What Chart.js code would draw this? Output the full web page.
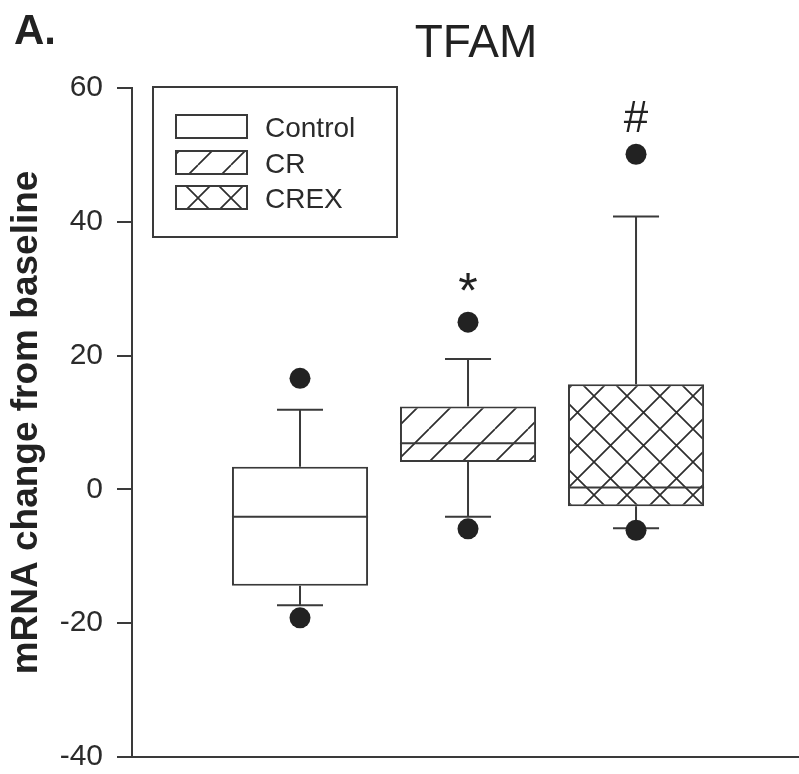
<!DOCTYPE html>
<html><head><meta charset="utf-8">
<style>html,body{margin:0;padding:0;background:#fff;} canvas{display:block;}</style>
<script src="https://cdn.jsdelivr.net/npm/chart.js@4"></script>
</head><body>
<canvas id="c" width="799" height="774"></canvas>
<script>
// ---- data ----
const categories = ['Control', 'CR', 'CREX'];
const groupX = [1, 2, 3];
const q1 = [-14.4, 4.1, -2.5];
const median = [-4.1, 6.9, 0.3];
const q3 = [3.4, 12.4, 15.7];
const whiskerLow = [-17.3, -4.1, -5.8];
const whiskerHigh = [11.9, 19.5, 40.8];
const outliersControl = [16.6, -19.2];
const outliersCR = [25.0, -5.9];
const outliersCREX = [50.1, -6.1];
const significance = ['', '*', '#'];
const significanceY = [null, 31.0, 55.7];
const yTicks = [-40, -20, 0, 20, 40, 60];
const titleText = 'TFAM';
const panelLabel = 'A.';
const yTitle = 'mRNA change from baseline';

// ---- styles ----
const FONT = '"Liberation Sans", Arial, Helvetica, sans-serif';
const INK = '#2b2b2b';
const LINE = '#3a3a3a';

function makePattern(kind) {
  const s = 33;
  const c = document.createElement('canvas');
  c.width = s; c.height = s;
  const g = c.getContext('2d');
  g.fillStyle = '#fff'; g.fillRect(0, 0, s, s);
  g.strokeStyle = '#2e2e2e'; g.lineWidth = 1.7;
  g.beginPath();
  for (const k of [-s, 0, s]) {
    g.moveTo(k, s); g.lineTo(k + s, 0);                              // '/'
    if (kind === 'cross') { g.moveTo(k, 0); g.lineTo(k + s, s); }     // '\'
  }
  g.stroke();
  return g.createPattern(c, 'repeat');
}
const fills = ['#ffffff', makePattern('fwd'), makePattern('cross')];

const outlierPoints = []
  .concat(outliersControl.map(v => ({x: groupX[0], y: v})))
  .concat(outliersCR.map(v => ({x: groupX[1], y: v})))
  .concat(outliersCREX.map(v => ({x: groupX[2], y: v})));

function zeroPad(s) { s.paddingLeft = 0; s.paddingRight = 0; s.paddingTop = 0; s.paddingBottom = 0; }

const boxPlugin = {
  id: 'boxextras',
  afterDatasetDraw(chart, args) {
    if (args.index !== 0) return;
    const ctx = chart.ctx, xs = chart.scales.x, ys = chart.scales.y;
    const meta = chart.getDatasetMeta(0);
    ctx.save();
    ctx.strokeStyle = LINE; ctx.lineWidth = 2;
    meta.data.forEach((bar, i) => {
      const cx = xs.getPixelForValue(groupX[i]);
      const capL = xs.getPixelForValue(groupX[i] - 0.137);
      const capR = xs.getPixelForValue(groupX[i] + 0.137);
      const half = bar.width / 2;
      const ym = ys.getPixelForValue(median[i]);
      const yh = ys.getPixelForValue(whiskerHigh[i]), yl = ys.getPixelForValue(whiskerLow[i]);
      ctx.beginPath();
      ctx.moveTo(cx - half, ym); ctx.lineTo(cx + half, ym);
      ctx.moveTo(cx, ys.getPixelForValue(q3[i])); ctx.lineTo(cx, yh);
      ctx.moveTo(cx, ys.getPixelForValue(q1[i])); ctx.lineTo(cx, yl);
      ctx.moveTo(capL, yh); ctx.lineTo(capR, yh);
      ctx.moveTo(capL, yl); ctx.lineTo(capR, yl);
      ctx.stroke();
    });
    ctx.restore();
  },
  afterDraw(chart) {
    const ctx = chart.ctx, xs = chart.scales.x, ys = chart.scales.y;
    ctx.save();
    ctx.fillStyle = '#222';
    ctx.font = 'bold 42px ' + FONT;
    ctx.textAlign = 'left'; ctx.textBaseline = 'alphabetic';
    ctx.fillText(panelLabel, 14, 44);
    ctx.font = '46px ' + FONT;
    ctx.textAlign = 'center';
    ctx.fillText(titleText, 476, 57);
    ctx.save();
    ctx.translate(27, (chart.chartArea.top + chart.chartArea.bottom) / 2);
    ctx.rotate(-Math.PI / 2);
    ctx.font = 'bold 37px ' + FONT;
    ctx.textAlign = 'center'; ctx.textBaseline = 'middle';
    ctx.fillText(yTitle, 0, 0);
    ctx.restore();
    significance.forEach((s, i) => {
      if (!s) return;
      ctx.font = (s === '*' ? '50px ' : '44px ') + FONT;
      ctx.textAlign = 'center'; ctx.textBaseline = 'alphabetic';
      const m = ctx.measureText(s);
      const yc = ys.getPixelForValue(significanceY[i]);
      const base = yc + (m.actualBoundingBoxAscent - m.actualBoundingBoxDescent) / 2;
      ctx.fillText(s, xs.getPixelForValue(groupX[i]), base);
    });
    ctx.strokeStyle = LINE; ctx.lineWidth = 2;
    ctx.strokeRect(153, 87, 244, 150);
    const rows = [{y: 115, h: 23, b: 137}, {y: 151, h: 23, b: 173}, {y: 186, h: 23, b: 208}];
    ctx.font = '28px ' + FONT;
    ctx.textAlign = 'left'; ctx.textBaseline = 'alphabetic';
    categories.forEach((name, i) => {
      const r = rows[i];
      ctx.fillStyle = fills[i];
      ctx.fillRect(176, r.y, 71, r.h);
      ctx.lineWidth = 2; ctx.strokeStyle = LINE;
      ctx.strokeRect(176, r.y, 71, r.h);
      ctx.fillStyle = INK;
      ctx.fillText(name, 265, r.b);
    });
    ctx.restore();
  }
};

new Chart(document.getElementById('c'), {
  type: 'bar',
  data: {
    datasets: [
      {
        type: 'bar', label: 'box',
        data: groupX.map((x, i) => ({x: x, y: [q1[i], q3[i]]})),
        backgroundColor: fills, borderColor: LINE, borderWidth: 2, borderSkipped: false,
        barPercentage: 0.9, categoryPercentage: 0.9, order: 2
      },
      {
        type: 'scatter', label: 'outliers', data: outlierPoints,
        pointRadius: 10.5, pointBackgroundColor: '#222', pointBorderWidth: 0, order: 1
      }
    ]
  },
  options: {
    responsive: false, animation: false, devicePixelRatio: 1,
    layout: {autoPadding: false, padding: {top: 88, left: 0, right: 0, bottom: 0}},
    plugins: {legend: {display: false}, tooltip: {enabled: false}},
    scales: {
      x: {
        type: 'linear', min: 0, max: 3.97, offset: false,
        afterBuildTicks(s) { s.ticks = groupX.map(v => ({value: v})); },
        ticks: {display: false},
        grid: {drawOnChartArea: false, drawTicks: false},
        border: {display: true, color: LINE, width: 2},
        afterFit(s) { s.height = 17; zeroPad(s); }
      },
      y: {
        min: -40, max: 60,
        afterBuildTicks(s) { s.ticks = yTicks.map(v => ({value: v})); },
        ticks: {color: INK, font: {size: 30, family: FONT}, padding: 14},
        grid: {drawOnChartArea: false, drawTicks: true, tickLength: 15, color: LINE, lineWidth: 2},
        border: {display: true, color: LINE, width: 2},
        afterFit(s) { s.width = 132; zeroPad(s); }
      }
    }
  },
  plugins: [boxPlugin]
});
</script>
</body></html>
